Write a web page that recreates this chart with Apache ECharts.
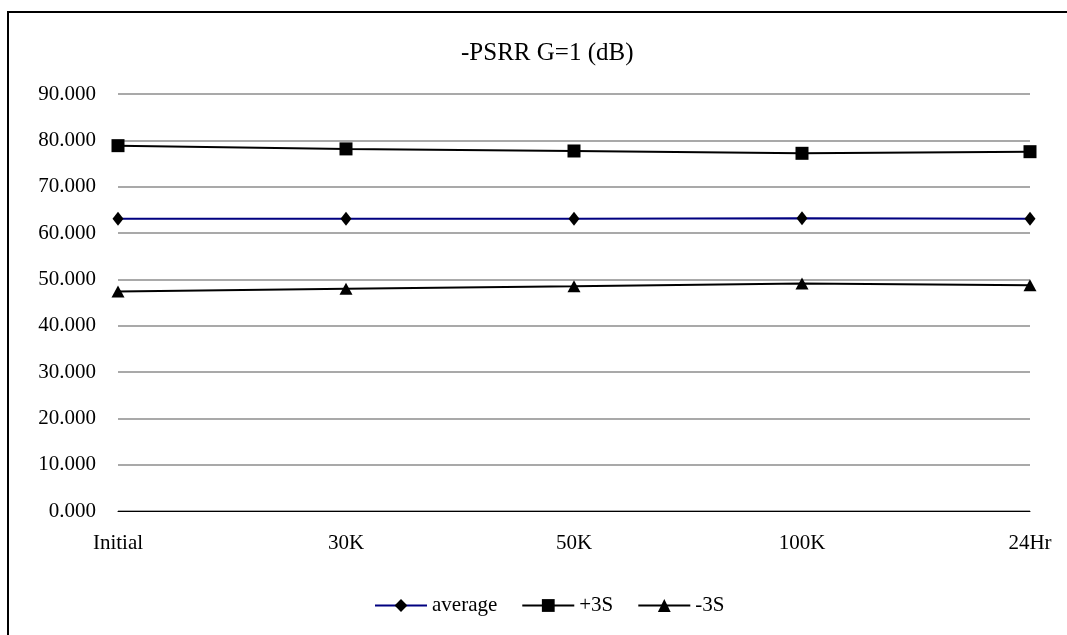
<!DOCTYPE html>
<html><head><meta charset="utf-8">
<script src="https://cdn.jsdelivr.net/npm/echarts@6/dist/echarts.min.js"></script>
<style>html,body{margin:0;padding:0;background:#fff}#c{width:1067px;height:635px}</style>
</head><body><div id="c"></div>
<script>
const categories = ['Initial', '30K', '50K', '100K', '24Hr'];
const average = [63.1, 63.1, 63.1, 63.2, 63.1];
const plus3S = [78.85, 78.15, 77.7, 77.2, 77.55];
const minus3S = [47.4, 47.95, 48.5, 49.1, 48.7];
const yTicks = { min: 0, max: 90, interval: 10 };

const font = '"Liberation Serif", "Times New Roman", serif';
const chart = echarts.init(document.getElementById('c'));
chart.setOption({
  animation: false,
  backgroundColor: '#fff',
  title: { text: '-PSRR G=1 (dB)', left: 456, top: 36, textStyle: { fontFamily: font, fontSize: 25, fontWeight: 'normal', color: '#000' } },
  graphic: [{ type: 'rect', shape: { x: 8, y: 12, width: 1100, height: 700 }, style: { fill: 'none', stroke: '#000', lineWidth: 2 }, silent: true }],
  grid: { left: 118, right: 37, top: 94, bottom: 124 },
  legend: {
    top: 590, left: 369, itemWidth: 52, itemHeight: 16, itemGap: 24,
    textStyle: { fontFamily: font, fontSize: 21, color: '#000' },
    data: ['average', '+3S', '-3S']
  },
  xAxis: {
    type: 'category', data: categories, boundaryGap: false,
    axisLine: { lineStyle: { color: '#000', width: 1 } },
    axisTick: { show: false },
    axisLabel: { fontFamily: font, fontSize: 21, color: '#000', margin: 22 }
  },
  yAxis: {
    type: 'value', min: yTicks.min, max: yTicks.max, interval: yTicks.interval,
    axisLine: { show: false }, axisTick: { show: false },
    splitLine: { lineStyle: { color: '#8c8c8c', width: 1.5 } },
    axisLabel: { fontFamily: font, fontSize: 21, color: '#000', margin: 22, formatter: v => v.toFixed(3) }
  },
  series: [
    { name: 'average', type: 'line', data: average, symbol: 'diamond', symbolSize: [11, 14],
      itemStyle: { color: '#000' }, lineStyle: { color: '#000080', width: 2 } },
    { name: '+3S', type: 'line', data: plus3S, symbol: 'rect', symbolSize: 13,
      itemStyle: { color: '#000' }, lineStyle: { color: '#000', width: 2 } },
    { name: '-3S', type: 'line', data: minus3S, symbol: 'triangle', symbolSize: [13, 12],
      itemStyle: { color: '#000' }, lineStyle: { color: '#000', width: 2 } }
  ]
});
</script></body></html>
